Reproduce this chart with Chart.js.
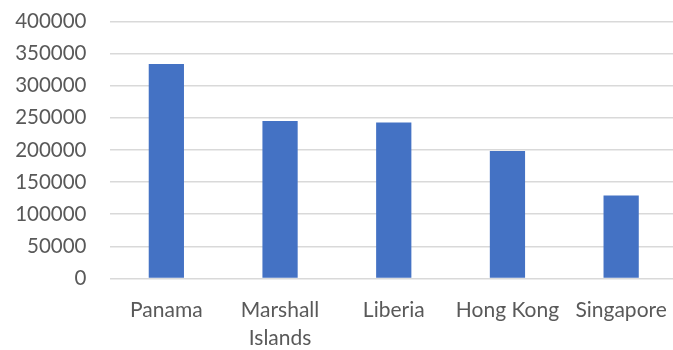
<!DOCTYPE html>
<html>
<head>
<meta charset="utf-8">
<script src="https://cdn.jsdelivr.net/npm/chart.js@4"></script>
<style>
  html, body { margin: 0; padding: 0; background: #fff; overflow: hidden; }
  #wrap { position: relative; width: 680px; height: 350px; }
</style>
</head>
<body>
<div id="wrap"><canvas id="flagChart"></canvas></div>
<script>
// registered ships by flag state
const categories = ['Panama', ['Marshall', 'Islands'], 'Liberia', 'Hong Kong', 'Singapore'];
const values = [333400, 245100, 242500, 198400, 128900];
const yTicks = [0, 50000, 100000, 150000, 200000, 250000, 300000, 350000, 400000];

const textColor = '#595959';
const fontSpec = { family: 'Lato', size: 21, lineHeight: 1.33 };

const canvas = document.getElementById('flagChart');
const flagChart = new Chart(canvas, {
    type: 'bar',
    data: {
        labels: categories,
        datasets: [{
            label: 'Ships',
            data: values,
            backgroundColor: '#4472C4',
            borderWidth: 0,
            barPercentage: 0.31,
            categoryPercentage: 1
        }]
    },
    options: {
        responsive: true,
        maintainAspectRatio: false,
        animation: false,
        layout: { padding: { top: 0, right: 2, bottom: 0, left: 0 } },
        plugins: {
            legend: { display: false },
            tooltip: { enabled: false }
        },
        scales: {
            x: {
                grid: { display: false },
                border: { display: false },
                afterFit: function(scale) {
                    scale.height = 71.5;
                },
                ticks: { color: textColor, font: fontSpec, padding: 10, maxRotation: 0, autoSkip: false }
            },
            y: {
                min: 0,
                max: yTicks[yTicks.length - 1],
                afterBuildTicks: function(scale) {
                    scale.ticks = yTicks.map(v => ({ value: v }));
                },
                afterFit: function(scale) {
                    scale.width = 109.5;
                    scale.paddingTop = 21.3;
                    scale.paddingBottom = 0;
                },
                grid: { color: '#d9d9d9', lineWidth: 1.5, drawTicks: false },
                border: { display: false },
                ticks: {
                    color: textColor, font: { family: 'Lato', size: 20.5, lineHeight: 1.33 },
                    padding: 23, autoSkip: false,
                    callback: v => String(v)
                }
            }
        }
    }
});
</script>
</body>
</html>
